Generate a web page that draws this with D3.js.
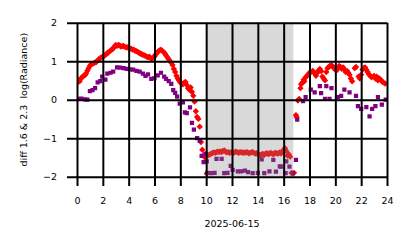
<!DOCTYPE html>
<html>
<head>
<meta charset="utf-8">
<script src="https://cdn.jsdelivr.net/npm/d3@7"></script>
<style>
  body { margin: 0; background: #fff; }
  text { font-family: "DejaVu Sans", sans-serif; }
</style>
</head>
<body>
<div id="chart"></div>
<script>
// ---- data (hours of 2025-06-15, value) ----
var redHours = [0.05,0.12,0.2,0.3,0.4,0.5,0.6,0.7,0.8,0.9,1.0,1.1,1.2,1.3,1.4,1.5,1.6,1.7,1.8,1.9,
  2.0,2.1,2.2,2.3,2.4,2.5,2.6,2.7,2.8,2.9,3.0,3.1,3.2,3.3,3.4,3.5,3.6,3.7,3.8,3.9,
  4.0,4.1,4.2,4.3,4.4,4.5,4.6,4.7,4.8,4.9,5.0,5.1,5.2,5.3,5.4,5.5,5.6,5.7,5.8,5.9,
  6.0,6.1,6.2,6.3,6.4,6.5,6.6,6.7,6.8,6.9,7.0,7.1,7.2,7.3,7.4,7.5,7.6,7.7,7.8,7.9,
  8.0,8.1,8.2,8.3,8.4,8.5,8.6,8.7,8.8,8.9,9.0,9.1,9.2,9.3,9.4,9.5,9.6,9.7,9.8,9.9,
  10.0,10.05,10.1,10.2,10.3,10.4,10.5,10.6,10.7,10.8,10.9,11.0,11.1,11.2,11.3,11.4,11.5,11.6,11.7,11.8,11.9,
  12.0,12.1,12.2,12.3,12.4,12.5,12.6,12.7,12.8,12.9,13.0,13.1,13.2,13.3,13.4,13.5,13.6,13.7,13.8,13.9,
  14.0,14.1,14.2,14.3,14.4,14.5,14.6,14.7,14.8,14.9,15.0,15.1,15.2,15.3,15.4,15.5,15.6,15.7,15.8,15.9,
  16.0,16.1,16.2,16.3,16.4,16.5,16.6,16.7,16.8,
  16.95,17.0,17.1,17.2,17.3,17.35,17.45,17.55,17.6,17.7,17.8,17.9,18.0,18.1,18.25,18.4,18.5,18.6,18.7,18.8,18.9,
  19.0,19.1,19.2,19.3,19.4,19.5,19.6,19.7,19.8,19.9,20.0,20.1,20.2,20.3,20.4,20.5,20.6,20.7,20.8,20.9,
  21.0,21.1,21.2,21.3,21.5,21.6,21.8,21.9,22.0,22.1,22.2,22.3,22.4,22.5,22.6,22.7,22.8,
  23.0,23.1,23.2,23.3,23.4,23.5,23.6,23.7,23.85];
var redValues = [0.45,0.50,0.48,0.55,0.58,0.62,0.63,0.68,0.75,0.82,0.88,0.92,0.93,0.95,0.97,0.98,1.02,1.05,1.08,1.10,
  1.12,1.14,1.16,1.20,1.22,1.25,1.28,1.30,1.33,1.38,1.42,1.40,1.42,1.41,1.38,1.39,1.40,1.37,1.36,1.36,
  1.34,1.33,1.32,1.30,1.30,1.27,1.26,1.24,1.22,1.20,1.18,1.17,1.15,1.14,1.12,1.10,1.12,1.08,1.06,1.10,
  1.12,1.18,1.22,1.26,1.28,1.30,1.27,1.24,1.20,1.15,1.10,1.05,1.00,0.96,0.90,0.80,0.72,0.62,0.55,0.50,
  0.45,0.42,0.40,0.44,0.46,0.38,0.30,0.26,0.32,0.20,0.10,-0.05,-0.30,-0.45,-0.50,-0.70,-1.10,-1.30,-1.45,-1.50,
  -1.45,-1.92,-1.45,-1.44,-1.42,-1.40,-1.38,-1.37,-1.38,-1.36,-1.35,-1.36,-1.34,-1.36,-1.33,-1.32,-1.35,-1.37,-1.36,-1.38,-1.37,
  -1.36,-1.38,-1.37,-1.35,-1.36,-1.38,-1.37,-1.36,-1.38,-1.37,-1.38,-1.36,-1.37,-1.39,-1.38,-1.37,-1.36,-1.38,-1.40,-1.39,
  -1.41,-1.43,-1.44,-1.42,-1.41,-1.43,-1.40,-1.39,-1.41,-1.40,-1.38,-1.40,-1.42,-1.39,-1.38,-1.40,-1.39,-1.37,-1.40,-1.36,
  -1.30,-1.26,-1.33,-1.45,-1.42,-1.48,-1.90,-1.92,-1.90,
  -0.40,-0.45,-0.02,0.02,0.30,0.40,0.45,0.52,0.48,0.58,0.62,0.66,0.70,0.72,0.75,0.68,0.62,0.70,0.76,0.80,0.74,
  0.60,0.55,0.50,0.72,0.82,0.86,0.88,0.90,0.86,0.82,0.78,0.76,0.82,0.88,0.85,0.80,0.84,0.78,0.72,0.75,
  0.70,0.65,0.55,0.48,0.82,0.85,0.60,0.55,0.65,0.78,0.82,0.84,0.78,0.72,0.66,0.62,0.58,
  0.62,0.55,0.60,0.50,0.55,0.52,0.48,0.45,0.42];

var purpleHours = [0.1,0.35,0.6,0.8,1.0,1.2,1.4,1.6,1.8,1.95,2.2,2.35,2.6,2.8,3.1,3.35,3.6,3.85,4.1,4.35,4.6,4.85,
  5.1,5.3,5.5,5.75,6.0,6.25,6.5,6.75,6.9,7.1,7.3,7.45,7.6,7.75,7.95,8.2,8.35,8.5,8.75,8.9,9.05,9.3,9.5,9.65,9.8,9.95,
  10.05,10.1,10.4,10.65,10.8,11.2,11.4,11.65,11.9,12.05,12.45,12.7,13.0,13.25,13.6,14.0,14.3,14.5,14.9,15.2,15.4,15.7,15.8,
  16.15,16.2,16.45,16.7,16.95,17.05,17.5,17.7,18.1,18.4,18.8,18.9,19.2,19.3,19.55,19.7,20.2,20.45,20.7,21.1,21.6,21.75,
  22.0,22.4,22.65,22.85,23.1,23.3,23.6,23.9];
var purpleValues = [0.02,0.03,0.01,0.0,0.22,0.25,0.30,0.45,0.48,0.60,0.52,0.68,0.70,0.73,0.84,0.83,0.82,0.80,0.79,0.78,0.75,0.73,
  0.68,0.62,0.66,0.54,0.56,0.63,0.70,0.60,0.54,0.48,0.41,0.25,0.18,0.08,-0.10,-0.07,-0.33,-0.35,-0.20,-0.60,-0.78,-1.00,-1.07,-1.46,-1.62,-1.40,
  -1.60,-1.90,-1.91,-1.90,-1.54,-1.54,-1.91,-1.90,-1.72,-1.82,-1.86,-1.86,-1.84,-1.88,-1.91,-1.90,-1.55,-1.91,-1.86,-1.56,-1.87,-1.73,-1.74,
  -1.91,-1.60,-1.74,-1.91,-1.56,-0.52,-0.04,0.07,0.26,0.19,0.35,0.17,0.02,0.35,0.02,0.30,0.07,0.10,0.26,0.19,0.10,-0.17,
  -0.24,-0.19,-0.43,-0.24,-0.17,0.07,-0.13,0.0];

var nightSpan = [10.0, 16.75];
var xTicks = [0,2,4,6,8,10,12,14,16,18,20,22,24];
var yTicks = [-2,-1,0,1,2];
var xLabel = "2025-06-15";
var yLabel = "diff 1.6 & 2.3  log(Radiance)";

var red = redHours.map(function(h, i) { return {h: h, v: redValues[i]}; });
var purple = purpleHours.map(function(h, i) { return {h: h, v: purpleValues[i]}; });

// ---- layout ----
var W = 414, H = 248;
var x = d3.scaleLinear().domain([0, 24]).range([77, 387]);
var y = d3.scaleLinear().domain([-2, 2]).range([176.7, 22.7]);

var svg = d3.select("#chart").append("svg")
  .attr("width", W).attr("height", H);

svg.append("clipPath").attr("id", "plotclip")
  .append("rect")
    .attr("x", x(0)).attr("y", y(2))
    .attr("width", x(24) - x(0)).attr("height", y(-2) - y(2));

var plot = svg.append("g").attr("clip-path", "url(#plotclip)");

// red diamonds (square turned 45 deg, like matplotlib "D")
var diamond = d3.symbol().type(d3.symbolSquare).size(20);
plot.selectAll("path.red")
  .data(red)
  .enter().append("path")
    .attr("class", "red")
    .attr("d", diamond)
    .attr("transform", function(d) { return "translate(" + x(d.h) + "," + y(d.v) + ") rotate(45)"; })
    .style("fill", "#ff0000");

// purple squares
var square = d3.symbol().type(d3.symbolSquare).size(18);
plot.selectAll("path.purple")
  .data(purple)
  .enter().append("path")
    .attr("class", "purple")
    .attr("d", square)
    .attr("transform", function(d) { return "translate(" + x(d.h) + "," + y(d.v) + ")"; })
    .style("fill", "#800080");

// shaded span
svg.append("rect")
  .attr("x", x(nightSpan[0]))
  .attr("y", y(2))
  .attr("width", x(nightSpan[1]) - x(nightSpan[0]))
  .attr("height", y(-2) - y(2))
  .style("fill", "#808080")
  .style("opacity", 0.3);

// grid + ticks
var xAxis = svg.append("g")
  .attr("transform", "translate(0,186)")
  .call(d3.axisBottom(x).tickValues(xTicks).tickFormat(d3.format("d"))
    .tickSize(-(186 - y(2))).tickPadding(11));
var yAxis = svg.append("g")
  .attr("transform", "translate(67,0)")
  .call(d3.axisLeft(y).tickValues(yTicks).tickFormat(d3.format("d"))
    .tickSize(-(x(24) - 67)).tickPadding(10));

[xAxis, yAxis].forEach(function(a) {
  a.select(".domain").remove();
  a.selectAll(".tick line").style("stroke", "#000").style("stroke-width", 2);
  a.selectAll(".tick text").style("font-size", "9.5px").style("fill", "#000")
    .style("font-family", "DejaVu Sans, sans-serif");
});

// axis labels
svg.append("text")
  .attr("x", x(12)).attr("y", 226.5)
  .attr("text-anchor", "middle")
  .style("font-size", "9.5px")
  .text(xLabel);

svg.append("text")
  .attr("transform", "translate(26.5," + y(0) + ") rotate(-90)")
  .attr("text-anchor", "middle")
  .style("font-size", "9.5px")
  .style("white-space", "pre")
  .text(yLabel);
</script>
</body>
</html>
